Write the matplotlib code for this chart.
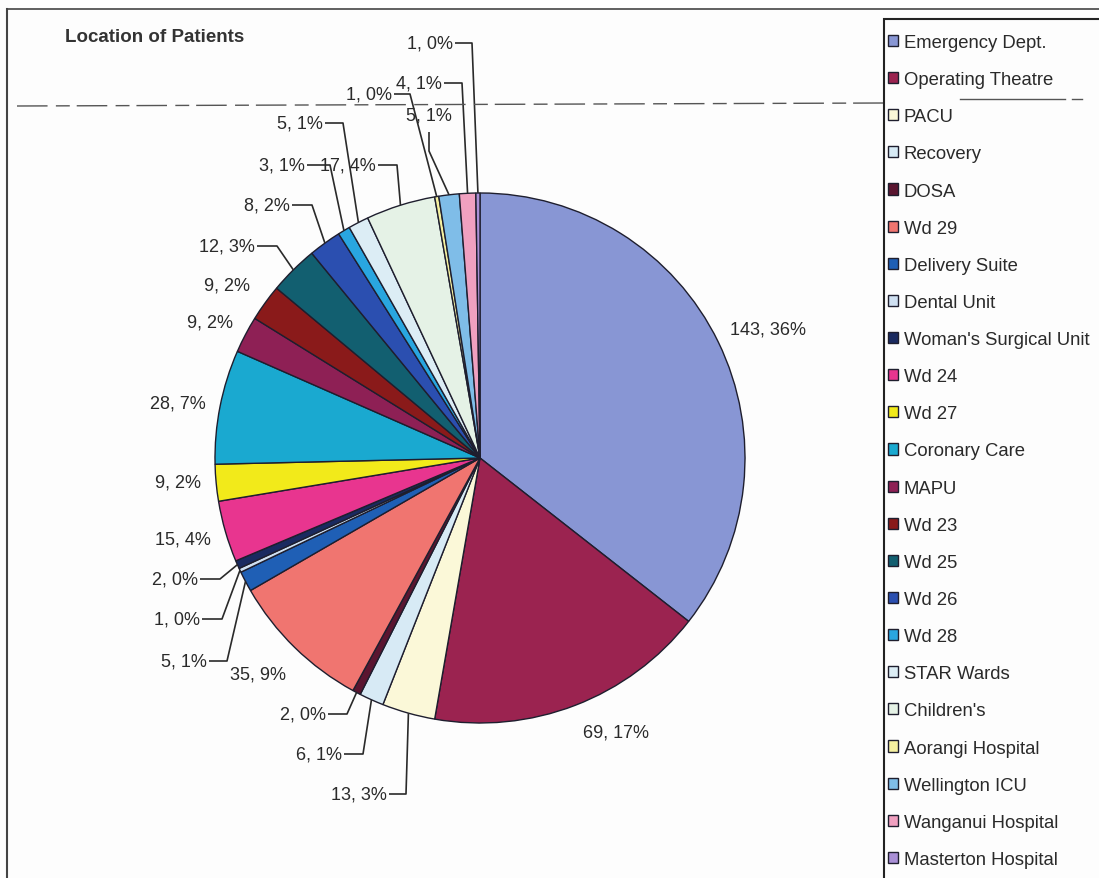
import matplotlib
matplotlib.use("Agg")
import matplotlib.pyplot as plt
from matplotlib.patches import Rectangle
import numpy as np

plt.rcParams['font.family'] = ['Liberation Sans', 'DejaVu Sans']

# ---- data -------------------------------------------------------------
locations = [
    "Emergency Dept.", "Operating Theatre", "PACU", "Recovery", "DOSA",
    "Wd 29", "Delivery Suite", "Dental Unit", "Woman's Surgical Unit",
    "Wd 24", "Wd 27", "Coronary Care", "MAPU", "Wd 23", "Wd 25", "Wd 26",
    "Wd 28", "STAR Wards", "Children's", "Aorangi Hospital",
    "Wellington ICU", "Wanganui Hospital", "Masterton Hospital",
]
patients = [143, 69, 13, 6, 2, 35, 5, 1, 2, 15, 9, 28, 9, 9, 12, 8, 3, 5,
            17, 1, 5, 4, 1]
percent_labels = ["36%", "17%", "3%", "1%", "0%", "9%", "1%", "0%", "0%",
                  "4%", "2%", "7%", "2%", "2%", "3%", "2%", "1%", "1%",
                  "4%", "0%", "1%", "1%", "0%"]

colors = [
    "#8896d4", "#9b2350", "#fbf8d8", "#d7eaf5", "#5a1530", "#f07570",
    "#1f5fb5", "#cfe0f2", "#1a2a60", "#e8358f", "#f2ea1a", "#1aa9d0",
    "#8e2055", "#8a1a1a", "#125f70", "#2b4fb0", "#29a6e0", "#dcedf5",
    "#e5f2e6", "#f5f0a0", "#7fbde8", "#f0a0c0", "#a98fd6",
]

# ---- layout (pixel coordinates, origin top-left) ----------------------
W, H = 1099, 879
CX, CY, R = 480, 459, 265

# labels placed freely: index -> (x centre, y centre)
free_labels = {
    0: (768, 330), 1: (616, 733), 5: (258, 675), 9: (183, 540),
    10: (178, 483), 11: (178, 404), 12: (210, 323), 13: (227, 286),
}
# labels with leader lines: index -> (text right x, text y, elbow x)
leader_labels = {
    2: (387, 795, 406), 3: (342, 755, 363), 4: (326, 715, 347),
    6: (207, 662, 227), 7: (200, 620, 222), 8: (198, 580, 220),
    14: (255, 247, 277), 15: (290, 206, 312), 16: (305, 166, 330),
    17: (323, 124, 343), 18: (376, 166, 397), 19: (392, 95, 410),
    21: (442, 84, 462), 22: (453, 44, 472),
}
# label sitting above its slice, leader drops from under the text
above_labels = {20: (429, 116, 133, 152)}


def Y(py):
    return H - py


fig = plt.figure(figsize=(W / 100, H / 100), dpi=100)
fig.patch.set_facecolor("#fdfdfd")
ax = fig.add_axes([0, 0, 1, 1])

wedges, _ = ax.pie(
    patients, colors=colors, startangle=90, counterclock=False,
    center=(CX, Y(CY)), radius=R,
    wedgeprops=dict(edgecolor="#1e1e2e", linewidth=1.0),
)
ax.set_xlim(0, W)
ax.set_ylim(0, H)
ax.set_aspect("equal")
ax.axis("off")

txt_kw = dict(fontsize=13, color="#2a2a2a")
line_kw = dict(color="#2a2a2a", lw=1.2, solid_capstyle="butt")


def edge_point(i):
    w = wedges[i]
    mid = np.deg2rad((w.theta1 + w.theta2) / 2)
    return CX + R * np.cos(mid), Y(CY) + R * np.sin(mid)


def label_text(i):
    return f"{patients[i]}, {percent_labels[i]}"


for i, (x, y) in free_labels.items():
    ax.text(x, Y(y), label_text(i), ha="center", va="center", **txt_kw)

for i, (xr, y, xe) in leader_labels.items():
    ax.text(xr, Y(y), label_text(i), ha="right", va="center", **txt_kw)
    ex, ey = edge_point(i)
    ax.plot([xr + 2, xe, ex], [Y(y), Y(y), ey], **line_kw)

for i, (xc, y, y0, y1) in above_labels.items():
    ax.text(xc, Y(y), label_text(i), ha="center", va="center", **txt_kw)
    ex, ey = edge_point(i)
    ax.plot([xc, xc, ex], [Y(y0), Y(y1), ey], **line_kw)

# title
ax.text(65, Y(37), "Location of Patients", ha="left", va="center",
        fontsize=13.5, fontweight="bold", color="#333333")

# outer frame and fold line
ax.plot([7, W], [Y(10), Y(10)], color="#444444", lw=1.2)
ax.plot([7, 7], [Y(10), 0], color="#444444", lw=1.5)
ax.plot([17, 884], [Y(107), Y(104)], color="#555555", lw=1.0,
        dashes=(22, 6, 10, 5))

# legend box (runs off the right and bottom edges)
ax.add_patch(Rectangle((884, -20), 240, H - 20 + 20, facecolor="#fdfdfd",
                       edgecolor="#222222", lw=1.5, zorder=3,
                       clip_on=False))

leg = ax.legend(
    wedges, locations, loc="upper left",
    bbox_to_anchor=(888 / W, 1 - 35 / H), bbox_transform=fig.transFigure,
    frameon=False, fontsize=13.3,
    labelspacing=1.09, handlelength=0.55, handleheight=0.55,
    handletextpad=0.3, borderpad=0, borderaxespad=0,
)
leg.set_zorder(5)
for t in leg.get_texts():
    t.set_color("#2a2a2a")

# fold line continues across the legend box
ax.plot([960, 1065], [Y(100), Y(100)], color="#555555", lw=1.0, zorder=10)
ax.plot([1072, 1082], [Y(100), Y(100)], color="#555555", lw=1.0, zorder=10)

fig.savefig("out.png", dpi=100, facecolor=fig.get_facecolor())
